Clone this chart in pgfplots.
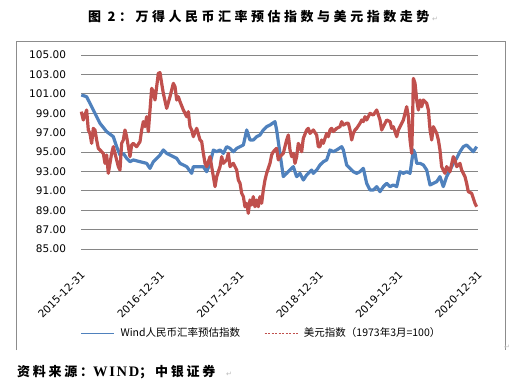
\documentclass[border=0pt]{standalone}
\usepackage{pgfplots}
\pgfplotsset{compat=1.18}
\usepackage{fontspec}
\setmainfont{DejaVu Sans}
\newfontfamily\cjk{Noto Sans CJK SC}
\newfontfamily\titlefont[LetterSpace=27]{Noto Sans CJK SC}
\newfontfamily\footfont[LetterSpace=21]{Noto Sans CJK SC}
\newfontfamily\serifb[LetterSpace=12]{Liberation Serif}
\newfontfamily\dejavu{DejaVu Sans}
\definecolor{bluec}{HTML}{4F81BD}
\definecolor{redc}{HTML}{C0504D}
\definecolor{gridgray}{HTML}{868686}
\definecolor{framegray}{HTML}{8C8C8C}
\begin{document}
\begin{tikzpicture}
\path[use as bounding box] (0bp,0bp) rectangle (524bp,-390bp);
\draw[framegray, line width=0.8bp] (16.5bp,-350bp) -- (16.5bp,-41.5bp) -- (505bp,-41.5bp) -- (505bp,-350bp);
\node[anchor=west, inner sep=0pt] at (88bp,-17bp) {\fontsize{13bp}{15bp}\titlefont\bfseries 图 2：万得人民币汇率预估指数与美元指数走势};
\node[anchor=west, inner sep=0pt] at (17bp,-372bp) {\fontsize{13bp}{15bp}\footfont\bfseries 资料来源：{\fontsize{14.5bp}{15bp}\serifb\bfseries WIND}；中银证券};
\node[anchor=west, inner sep=0pt, text=gray!55] at (432bp,-19bp) {\fontsize{7bp}{8bp}\dejavu ↵};
\node[anchor=west, inner sep=0pt, text=gray!55] at (226bp,-374bp) {\fontsize{7bp}{8bp}\dejavu ↵};
\node[anchor=west, inner sep=0pt, text=gray!55] at (504bp,-347bp) {\fontsize{7bp}{8bp}\dejavu ↵};
\begin{axis}[
  at={(81bp,-249bp)}, anchor=south west,
  scale only axis, width=397bp, height=194bp,
  xmin=0, xmax=5, ymin=85, ymax=105,
  axis line style={draw=none},
  tick style={draw=none},
  clip=false,
  ytick={85,87,89,91,93,95,97,99,101,103,105},
  ymajorgrids,
  grid style={color=gridgray, line width=0.9bp},
  xtick={0,1,2,3,4,5},
  xticklabels={2015-12-31,2016-12-31,2017-12-31,2018-12-31,2019-12-31,2020-12-31},
  xticklabel style={font=\fontsize{10.5bp}{12bp}\selectfont, xshift=4.5bp, yshift=-21.5bp, rotate=45, anchor=east},
  yticklabel style={font=\fontsize{10.5bp}{12bp}\selectfont, xshift=-11.5bp, /pgf/number format/.cd, fixed, fixed zerofill, precision=2, assume math mode=true},
  legend columns=2,
  legend style={at={(rel axis cs:0.4547,-0.433)}, anchor=center, draw=none, fill=none,
    font=\fontsize{10.5bp}{12bp}\cjk,
    /tikz/every odd column/.append style={column sep=4bp},
    /tikz/every even column/.append style={column sep=22bp}},
]
\addplot[color=bluec, line width=3.2bp, line join=round,
  legend image code/.code={\draw[bluec, line width=1bp] (0bp,0bp) -- (33bp,0bp);}] coordinates {
(0.004,100.88) (0.071,100.70) (0.155,99.33) (0.239,97.96) (0.323,97.10) (0.407,96.58)
(0.449,95.55) (0.491,94.69) (0.533,94.86) (0.575,94.35) (0.617,94.00) (0.659,94.18)
(0.743,94.00) (0.827,93.83) (0.869,93.31) (0.911,94.00) (0.995,94.69) (1.037,95.21)
(1.079,94.86) (1.163,94.52) (1.205,94.35) (1.247,93.83) (1.331,93.49) (1.394,92.80)
(1.415,93.49) (1.499,93.49) (1.541,93.49) (1.583,92.97) (1.625,93.83) (1.667,95.21)
(1.709,95.03) (1.751,95.21) (1.793,94.86) (1.835,95.55) (1.877,95.38) (1.919,95.03)
(1.961,95.38) (2.003,95.55) (2.045,95.72) (2.087,97.27) (2.128,96.24) (2.170,96.24)
(2.212,96.58) (2.254,96.75) (2.296,97.27) (2.338,97.61) (2.380,97.78) (2.443,98.13)
(2.464,97.27) (2.506,94.86) (2.548,92.46) (2.590,92.80) (2.674,93.49) (2.716,92.46)
(2.758,92.80) (2.800,92.11) (2.842,92.63) (2.905,93.14) (2.926,92.80) (2.968,93.14)
(3.010,93.66) (3.052,94.00) (3.094,94.18) (3.136,95.21) (3.178,95.03) (3.220,95.21)
(3.283,95.55) (3.304,95.21) (3.346,93.66) (3.388,93.32) (3.430,92.97) (3.472,92.80)
(3.514,92.97) (3.556,93.32) (3.598,91.77) (3.640,91.08) (3.682,91.08) (3.724,91.43)
(3.766,90.91) (3.808,91.43) (3.850,91.77) (3.892,91.43) (3.934,91.60) (3.976,91.43)
(4.018,92.97) (4.060,92.80) (4.102,92.97) (4.144,92.80) (4.186,95.21) (4.207,94.86)
(4.228,93.83) (4.270,93.83) (4.312,93.66) (4.354,93.14) (4.396,91.60) (4.438,91.77)
(4.480,91.94) (4.521,92.46) (4.563,91.43) (4.605,92.46) (4.647,93.14) (4.689,93.83)
(4.731,94.35) (4.773,95.03) (4.815,95.55) (4.857,95.72) (4.899,95.38) (4.941,95.03)
(4.983,95.55)
};
\addlegendentry{Wind人民币汇率预估指数}
\addplot[color=redc, line width=3.2bp, line join=round,
  legend image code/.code={\draw[redc, line width=0.8bp, dash pattern=on 2.2bp off 1.3bp] (0bp,0bp) -- (33bp,0bp);}] coordinates {
(0.004,99.16) (0.029,98.30) (0.071,99.33) (0.092,97.27) (0.113,96.92) (0.134,95.89)
(0.155,97.44) (0.176,97.27) (0.197,96.24) (0.218,95.38) (0.239,95.21) (0.281,94.86)
(0.302,93.83) (0.323,94.69) (0.344,92.80) (0.365,93.83) (0.386,94.86) (0.407,95.55)
(0.428,94.86) (0.449,94.18) (0.470,93.49) (0.491,93.14) (0.512,95.89) (0.533,96.24)
(0.554,97.27) (0.575,96.58) (0.596,95.55) (0.617,94.52) (0.638,95.72) (0.659,95.89)
(0.701,95.55) (0.743,96.07) (0.764,97.27) (0.785,98.13) (0.806,97.61) (0.827,98.64)
(0.848,97.10) (0.869,99.33) (0.890,101.56) (0.911,101.22) (0.932,100.36) (0.953,101.74)
(0.974,103.11) (0.995,103.18) (1.016,102.08) (1.037,101.05) (1.079,99.50) (1.121,100.70)
(1.163,102.08) (1.184,101.74) (1.205,100.36) (1.226,100.70) (1.247,100.19) (1.289,99.33)
(1.331,98.64) (1.352,99.16) (1.373,97.61) (1.394,97.27) (1.415,96.58) (1.457,97.44)
(1.499,96.24) (1.520,96.07) (1.541,94.86) (1.562,93.83) (1.583,93.49) (1.625,94.52)
(1.646,93.49) (1.667,92.46) (1.688,91.43) (1.709,92.46) (1.751,93.49) (1.772,94.52)
(1.793,93.83) (1.835,94.18) (1.856,94.86) (1.877,93.49) (1.919,93.83) (1.961,93.14)
(1.982,92.11) (2.003,91.77) (2.024,90.74) (2.045,90.40) (2.065,89.36) (2.087,89.71)
(2.107,88.68) (2.128,90.05) (2.149,89.54) (2.170,90.40) (2.191,89.36) (2.212,90.05)
(2.233,89.36) (2.254,90.40) (2.275,89.71) (2.296,91.08) (2.317,92.11) (2.338,92.80)
(2.380,93.83) (2.401,94.69) (2.422,95.03) (2.464,95.38) (2.485,94.18) (2.506,94.52)
(2.548,94.86) (2.590,96.24) (2.611,96.75) (2.632,95.21) (2.653,94.52) (2.674,94.86)
(2.695,93.83) (2.716,94.52) (2.737,95.89) (2.758,95.55) (2.779,95.03) (2.800,96.41)
(2.842,97.27) (2.863,97.44) (2.884,96.92) (2.926,97.27) (2.968,96.75) (2.989,95.55)
(3.010,95.55) (3.031,96.24) (3.052,95.89) (3.094,96.92) (3.115,96.58) (3.136,97.27)
(3.157,97.44) (3.178,97.10) (3.220,97.44) (3.262,97.61) (3.283,98.13) (3.304,97.78)
(3.346,97.96) (3.367,97.96) (3.388,97.27) (3.409,96.24) (3.430,96.92) (3.451,97.27)
(3.472,97.44) (3.514,97.96) (3.535,98.30) (3.556,98.13) (3.577,98.64) (3.598,98.30)
(3.640,98.99) (3.682,98.81) (3.724,99.33) (3.766,98.30) (3.787,97.27) (3.808,97.61)
(3.850,98.30) (3.892,98.13) (3.913,97.44) (3.934,97.61) (3.955,97.10) (3.976,96.58)
(3.997,97.27) (4.018,97.61) (4.060,98.30) (4.081,98.99) (4.102,99.67) (4.123,98.64)
(4.144,96.24) (4.165,94.86) (4.177,98.64) (4.186,102.59) (4.207,102.08) (4.228,100.36)
(4.249,99.33) (4.270,100.36) (4.291,99.67) (4.312,100.36) (4.354,100.02) (4.375,99.33)
(4.396,97.27) (4.417,96.24) (4.438,97.61) (4.480,96.92) (4.501,96.24) (4.521,95.21)
(4.542,93.49) (4.563,93.14) (4.584,92.80) (4.605,93.49) (4.647,92.97) (4.689,94.52)
(4.710,94.18) (4.731,93.49) (4.773,93.83) (4.794,93.14) (4.815,92.80) (4.836,92.46)
(4.857,91.77) (4.878,90.91) (4.920,90.74) (4.941,90.22) (4.962,89.71) (4.983,89.36)
};
\addlegendentry{美元指数（1973年3月=100）}
\end{axis}
\end{tikzpicture}
\end{document}
